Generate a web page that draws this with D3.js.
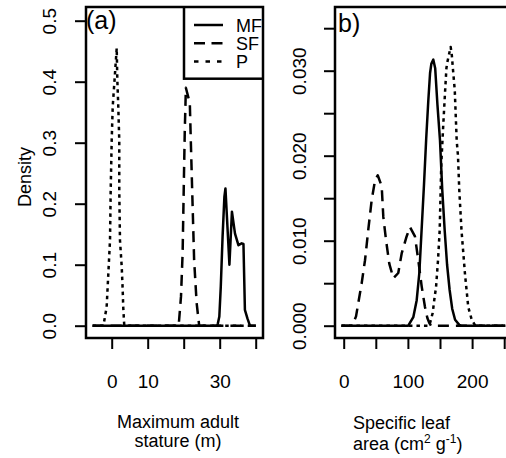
<!DOCTYPE html>
<html><head><meta charset="utf-8">
<script src="https://cdn.jsdelivr.net/npm/d3@7/dist/d3.min.js"></script>
<style>
body{margin:0;background:#fff}
text{font-family:"Liberation Sans",Arial,Helvetica,sans-serif;fill:#000}
</style>
</head><body>
<svg id="c" width="506" height="458"></svg>
<script>
// ---------- data ----------
const groups = ["MF", "SF", "P"];

const statureTicks = [0, 10, 20, 30, 40];
const statureTickLabels = ["0", "10", "", "30", ""];
const statureDensityTicks = [0, 0.1, 0.2, 0.3, 0.4, 0.5];
const statureDensityLabels = ["0.0", "0.1", "0.2", "0.3", "0.4", "0.5"];

const slaTicks = [0, 50, 100, 150, 200, 250];
const slaTickLabels = ["0", "", "100", "", "200", ""];
const slaDensityTicks = [0, 0.005, 0.01, 0.015, 0.02, 0.025, 0.03, 0.035];
const slaDensityLabels = ["0.000", "", "0.010", "", "0.020", "", "0.030", ""];

// Panel (a): maximum adult stature (m) vs density
const statureMF = [[-5.3,0],[29.3,0],[29.5,0.004],[29.9,0.015],[30.3,0.064],[30.8,0.146],[31.3,0.211],[31.6,0.225],
  [32.7,0.1],[33.4,0.187],[34.25,0.151],[35.2,0.132],[36.1,0.135],[36.6,0.134],[37.0,0.026],[37.7,0.012],[38.4,0],[40,0]];
const statureSF = [[-5.3,0],[18.6,0],[19.25,0.048],[19.7,0.119],[20.1,0.255],[20.3,0.32],[20.5,0.365],[20.6,0.39],
  [21.7,0.365],[21.9,0.32],[22.2,0.255],[22.9,0.107],[23.6,0.037],[24.3,0],[40,0]];
const statureP = [[-5.3,0],[-2.3,0],[-1.86,0.015],[-1.4,0.031],[-0.93,0.086],[-0.47,0.14],[-0.28,0.222],[0.0,0.304],
  [0.28,0.359],[0.92,0.414],[1.39,0.455],[1.56,0.403],[1.83,0.359],[2.1,0.304],[2.1,0.222],[2.3,0.14],[2.78,0.097],
  [3.05,0.059],[3.2,0.031],[3.4,0.009],[3.5,0],[40,0]];

// Panel (b): specific leaf area vs density
const slaMF = [[-3.5,0],[100.6,0],[108.4,0.001],[113.7,0.003],[117.8,0.0062],[121.3,0.0112],[125,0.0165],[128.5,0.022],
  [131.8,0.0265],[134.5,0.0297],[136.5,0.0308],[139.6,0.0313],[142.5,0.0303],[146,0.026],[150,0.0218],[153.5,0.016],
  [157.3,0.0112],[161,0.0072],[165,0.0042],[169,0.002],[173.5,0.0007],[180,0.0001],[183,0],[252,0]];
const slaSF = [[-3.5,0],[14,0],[15,0.0003],[19.2,0.0011],[28,0.005],[33.2,0.0077],[38.3,0.0113],[43.6,0.0148],
  [48.8,0.0171],[53,0.0177],[59.2,0.0164],[61.7,0.0128],[65.9,0.0101],[71,0.0073],[77.3,0.0056],[85,0.0062],
  [90.3,0.0085],[98,0.0105],[103.3,0.0116],[111,0.0105],[116.2,0.0077],[121.5,0.0046],[126.6,0.0022],
  [130.3,0.0009],[133.4,0.0003],[136,0],[252,0]];
const slaP = [[-3.5,0],[133,0],[134.4,0.0003],[138.6,0.0015],[141.7,0.0034],[143.8,0.0045],[146.9,0.0077],
  [149.5,0.0112],[152,0.019],[155.2,0.0238],[157.5,0.027],[160,0.0303],[161.4,0.031],[166.6,0.0328],[168.2,0.032],
  [170.7,0.0297],[173,0.0277],[176,0.0218],[178,0.02],[180,0.016],[183.5,0.0112],[189,0.006],[194,0.0022],
  [199.4,0.0007],[205,0],[252,0]];

// ---------- layout / style ----------
const LW = 2.5;
const dashCurve = {MF: null, SF: "11,7", P: "3.5,4"};
const dashLegend = {MF: null, SF: "11,6.5", P: "4.5,7"};
const FS_TICK = 19, FS_TITLE = 18, FS_PANEL = 25;

const svg = d3.select("#c");
svg.append("rect").attr("width", 506).attr("height", 458).attr("fill", "#fff");

function panel(cfg) {
  const {id, left, right, top, bottom, x, y, series, xTicks, xLabels, yTicks, yLabels, yLabelOffset} = cfg;
  const clipId = "clip" + id;
  svg.append("clipPath").attr("id", clipId).append("rect")
    .attr("x", left).attr("y", top).attr("width", right - left).attr("height", bottom - top);

  const line = d3.line().x(d => x(d[0])).y(d => y(d[1]));
  const g = svg.append("g").attr("clip-path", `url(#${clipId})`);
  groups.forEach((grp, i) => {
    g.append("path").datum(series[i]).attr("d", line)
      .attr("fill", "none").attr("stroke", "#000").attr("stroke-width", LW)
      .attr("stroke-linejoin", "round")
      .attr("stroke-dasharray", dashCurve[grp]);
  });

  // box
  svg.append("rect").attr("x", left).attr("y", top).attr("width", right - left).attr("height", bottom - top)
    .attr("fill", "none").attr("stroke", "#000").attr("stroke-width", LW);

  // x axis
  const ax = svg.append("g").attr("transform", `translate(0,${bottom})`)
    .call(d3.axisBottom(x).tickValues(xTicks).tickSize(11).tickFormat((d, i) => xLabels[i]));
  ax.select(".domain").remove();
  ax.selectAll(".tick line").attr("stroke-width", 2);
  ax.selectAll(".tick text").attr("y", 50).attr("dy", 0)
    .attr("font-size", FS_TICK).attr("font-family", '"Liberation Sans",Arial,sans-serif');

  // y axis
  const ay = svg.append("g").attr("transform", `translate(${left},0)`)
    .call(d3.axisLeft(y).tickValues(yTicks).tickSize(11).tickFormat((d, i) => yLabels[i]));
  ay.select(".domain").remove();
  ay.selectAll(".tick line").attr("stroke-width", 2);
  ay.selectAll(".tick text").attr("x", 0).attr("y", 0).attr("dy", 0)
    .attr("text-anchor", "middle")
    .attr("transform", `translate(${yLabelOffset},0) rotate(-90)`)
    .attr("font-size", FS_TICK).attr("font-family", '"Liberation Sans",Arial,sans-serif');
  return clipId;
}

// Panel (a)
const xa = d3.scaleLinear().domain([0, 40]).range([111.7, 255.7]);
const ya = d3.scaleLinear().domain([0, 0.5]).range([325.7, 20.7]);
const clipA = panel({id: "a", left: 86, right: 263, top: 7, bottom: 338, x: xa, y: ya,
  series: [statureMF, statureSF, statureP], xTicks: statureTicks, xLabels: statureTickLabels,
  yTicks: statureDensityTicks, yLabels: statureDensityLabels, yLabelOffset: -30.5});

// Panel (b)
const xb = d3.scaleLinear().domain([0, 250]).range([343.7, 504.2]);
const yb = d3.scaleLinear().domain([0, 0.03]).range([325.7, 70.7]);
panel({id: "b", left: 335, right: 512, top: 7, bottom: 338, x: xb, y: yb,
  series: [slaMF, slaSF, slaP], xTicks: slaTicks, xLabels: slaTickLabels,
  yTicks: slaDensityTicks, yLabels: slaDensityLabels, yLabelOffset: -28.7});

// panel labels
svg.append("text").attr("x", 86).attr("y", 28.5).attr("font-size", FS_PANEL).text("(a)");
svg.append("text").attr("x", 338).attr("y", 31.5).attr("font-size", FS_PANEL).text("b)");

// legend (clipped to panel a)
const lg = svg.append("g").attr("clip-path", `url(#${clipA})`);
lg.append("rect").attr("x", 184).attr("y", 7).attr("width", 79).attr("height", 71.7)
  .attr("fill", "#fff").attr("stroke", "#000").attr("stroke-width", LW);
groups.forEach((grp, i) => {
  const yy = 25 + i * 18.3;
  lg.append("line").attr("x1", 194).attr("x2", 223).attr("y1", yy).attr("y2", yy)
    .attr("stroke", "#000").attr("stroke-width", LW).attr("stroke-dasharray", dashLegend[grp]);
  lg.append("text").attr("x", 236).attr("y", yy + 6.5).attr("font-size", 18).text(grp);
});

// axis titles
svg.append("text").attr("transform", "translate(31,177) rotate(-90)")
  .attr("text-anchor", "middle").attr("font-size", FS_TITLE).text("Density");
svg.append("text").attr("x", 178).attr("y", 428.3).attr("text-anchor", "middle")
  .attr("font-size", FS_TITLE).text("Maximum adult");
svg.append("text").attr("x", 178).attr("y", 446.7).attr("text-anchor", "middle")
  .attr("font-size", FS_TITLE).text("stature (m)");
svg.append("text").attr("x", 353).attr("y", 429.3).attr("font-size", FS_TITLE).text("Specific leaf");
const t2 = svg.append("text").attr("x", 353).attr("y", 450).attr("font-size", FS_TITLE);
t2.append("tspan").text("area (cm");
t2.append("tspan").attr("font-size", 12).attr("dy", -7).text("2");
t2.append("tspan").attr("dy", 7).text(" g");
t2.append("tspan").attr("font-size", 12).attr("dy", -7).text("-1");
t2.append("tspan").attr("dy", 7).text(")");
</script>
</body></html>
